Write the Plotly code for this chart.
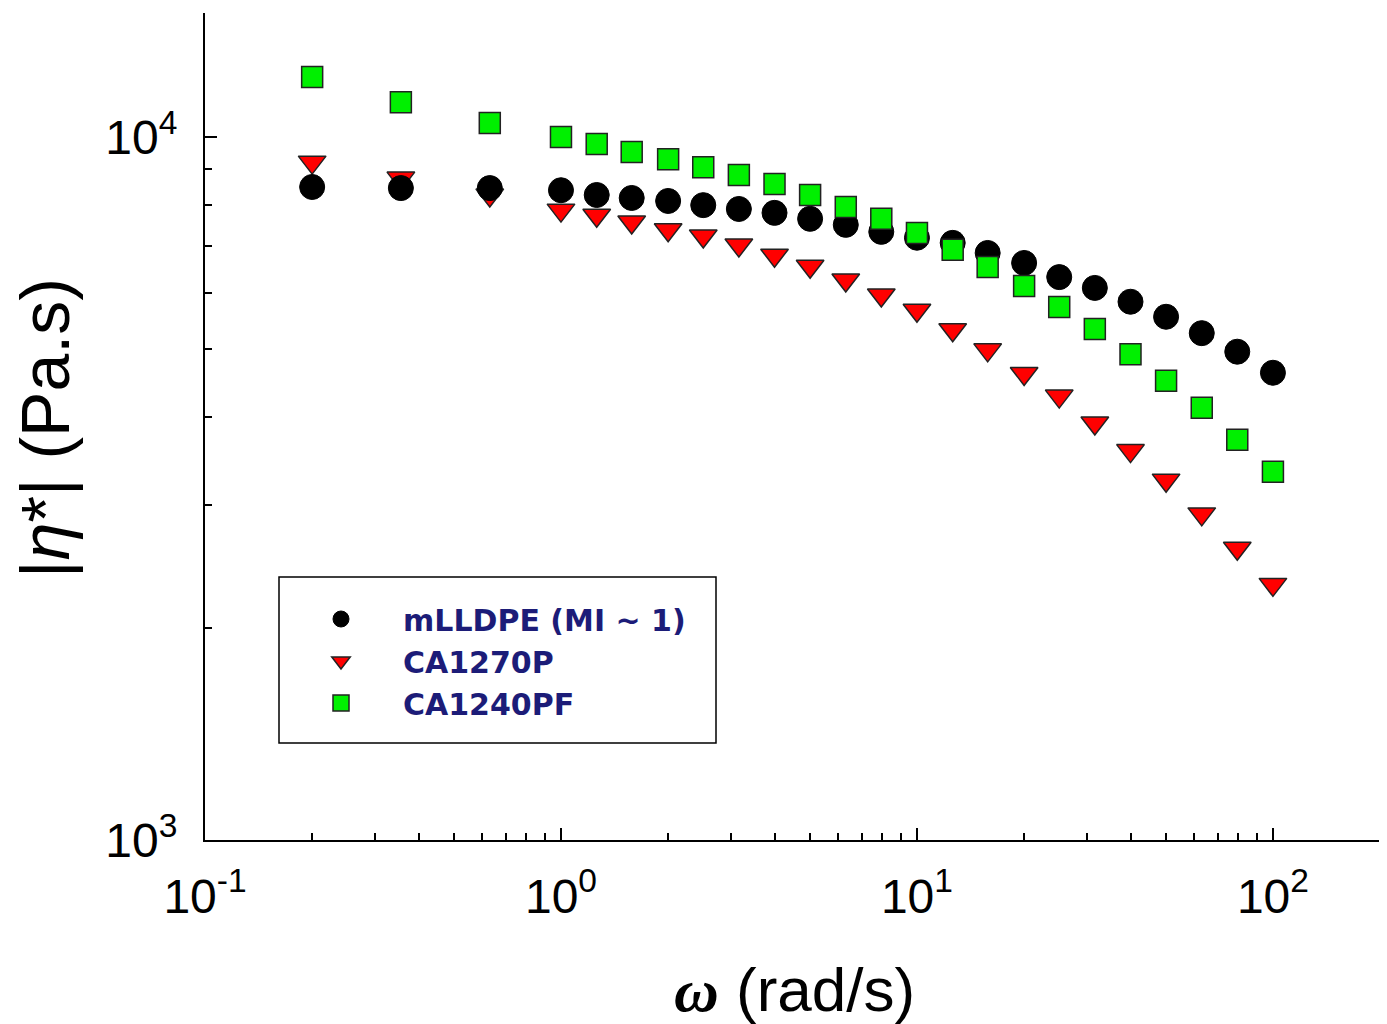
import plotly.graph_objects as go

omega = [0.2, 0.355, 0.631, 1.0, 1.26, 1.58, 2.0, 2.51, 3.16, 3.98, 5.01, 6.31,
         7.94, 10.0, 12.6, 15.8, 20.0, 25.1, 31.6, 39.8, 50.1, 63.1, 79.4, 100.0]

eta_mlldpe = [8490, 8460, 8460, 8400, 8270, 8190, 8110, 8000, 7900, 7800, 7650, 7500,
              7330, 7190, 7070, 6840, 6620, 6320, 6100, 5830, 5550, 5260, 4950, 4620]
eta_ca1270p = [9210, 8740, 8270, 7870, 7740, 7570, 7380, 7230, 7020, 6790, 6550, 6260,
               5960, 5670, 5320, 4980, 4610, 4280, 3920, 3580, 3250, 2910, 2600, 2310]
eta_ca1240pf = [12170, 11210, 10470, 10000, 9770, 9520, 9300, 9060, 8830, 8570, 8270, 7950,
                7650, 7300, 6910, 6530, 6140, 5730, 5330, 4910, 4500, 4120, 3710, 3340]

names = ["mLLDPE (MI ~ 1)", "CA1270P", "CA1240PF"]

x_major = [0.1, 1, 10, 100]
x_major_text = ["10<sup>-1</sup>", "10<sup>0</sup>", "10<sup>1</sup>", "10<sup>2</sup>"]
x_minor = [0.2, 0.3, 0.4, 0.5, 0.6, 0.7, 0.8, 0.9, 2, 3, 4, 5, 6, 7, 8, 9,
           20, 30, 40, 50, 60, 70, 80, 90, 200]
y_major = [1000, 10000]
y_major_text = ["10<sup>3</sup>", "10<sup>4</sup>"]
y_minor = [2000, 3000, 4000, 5000, 6000, 7000, 8000, 9000]

FONT = "Arial, Liberation Sans, sans-serif"
LEGEND_FONT = "DejaVu Sans, Arial, sans-serif"

# page body has an 8px margin; plot area should span x 205..1384, y 13..840 on the page
W, H = 1379, 1016
ML, MT = 197, 5
PW, PH = 1179, 827
MR = W - ML - PW
MB = H - MT - PH


def px_x(px):
    return (px - 205) / PW


def px_y(py):
    return (840 - py) / PH


fig = go.Figure()
fig.add_trace(go.Scatter(x=omega, y=eta_ca1270p, mode="markers", name=names[1],
                         marker=dict(symbol="triangle-down", size=24, color="#ff0000",
                                     line=dict(color="#222222", width=1.5)), legendrank=2))
fig.add_trace(go.Scatter(x=omega, y=eta_mlldpe, mode="markers", name=names[0],
                         marker=dict(symbol="circle", size=25, color="#000000",
                                     line=dict(color="#000000", width=1)), legendrank=1))
fig.add_trace(go.Scatter(x=omega, y=eta_ca1240pf, mode="markers", name=names[2],
                         marker=dict(symbol="square", size=21, color="#00f000",
                                     line=dict(color="#222222", width=1.5)), legendrank=3))

fig.update_layout(
    width=W, height=H,
    margin=dict(l=ML, r=MR, t=MT, b=MB, autoexpand=False),
    paper_bgcolor="white", plot_bgcolor="white",
    font=dict(family=FONT, color="black"),
    showlegend=True,
    legend=dict(x=px_x(279), y=px_y(593), xanchor="left", yanchor="top",
                bgcolor="rgba(0,0,0,0)", borderwidth=0,
                font=dict(family=LEGEND_FONT, size=30, color="#1c1c78", weight="bold"),
                itemwidth=114, tracegroupgap=0, traceorder="normal"),
    xaxis=dict(type="log", range=[-1, 2.312], showgrid=False, zeroline=False,
               showline=True, linecolor="black", linewidth=2, mirror=False,
               ticks="inside", ticklen=12, tickwidth=1.5, tickcolor="black",
               tickvals=x_major, ticktext=x_major_text, ticklabelstandoff=13,
               tickfont=dict(family=FONT, size=48, color="black"),
               minor=dict(ticks="inside", ticklen=7, tickwidth=1.5, tickcolor="black",
                          tickvals=x_minor, showgrid=False)),
    yaxis=dict(type="log", range=[3, 4.1764], showgrid=False, zeroline=False,
               showline=True, linecolor="black", linewidth=2, mirror=False,
               ticks="inside", ticklen=12, tickwidth=1.5, tickcolor="black",
               tickvals=y_major, ticktext=y_major_text, ticklabelstandoff=16,
               tickfont=dict(family=FONT, size=48, color="black"),
               minor=dict(ticks="inside", ticklen=7, tickwidth=1.5, tickcolor="black",
                          tickvals=y_minor, showgrid=False)),
)

# legend frame
fig.add_shape(type="rect", xref="paper", yref="paper",
              x0=px_x(279), x1=px_x(716), y0=px_y(743), y1=px_y(577),
              line=dict(color="black", width=1.5), fillcolor="rgba(0,0,0,0)")

# axis titles
fig.add_annotation(xref="paper", yref="paper", x=px_x(794), y=px_y(990),
                   xanchor="center", yanchor="middle", showarrow=False,
                   text="<span style=\"font-family:'Liberation Serif', 'Times New Roman', serif\"><b><i>ω</i></b></span> (rad/s)",
                   font=dict(family=FONT, size=62, color="black"))
fig.add_annotation(xref="paper", yref="paper", x=px_x(45), y=px_y(428),
                   xanchor="center", yanchor="middle", showarrow=False, textangle=-90,
                   text="|<i>η</i>*| (Pa.s)",
                   font=dict(family=FONT, size=68, color="black"))

fig.write_html("out.html")
